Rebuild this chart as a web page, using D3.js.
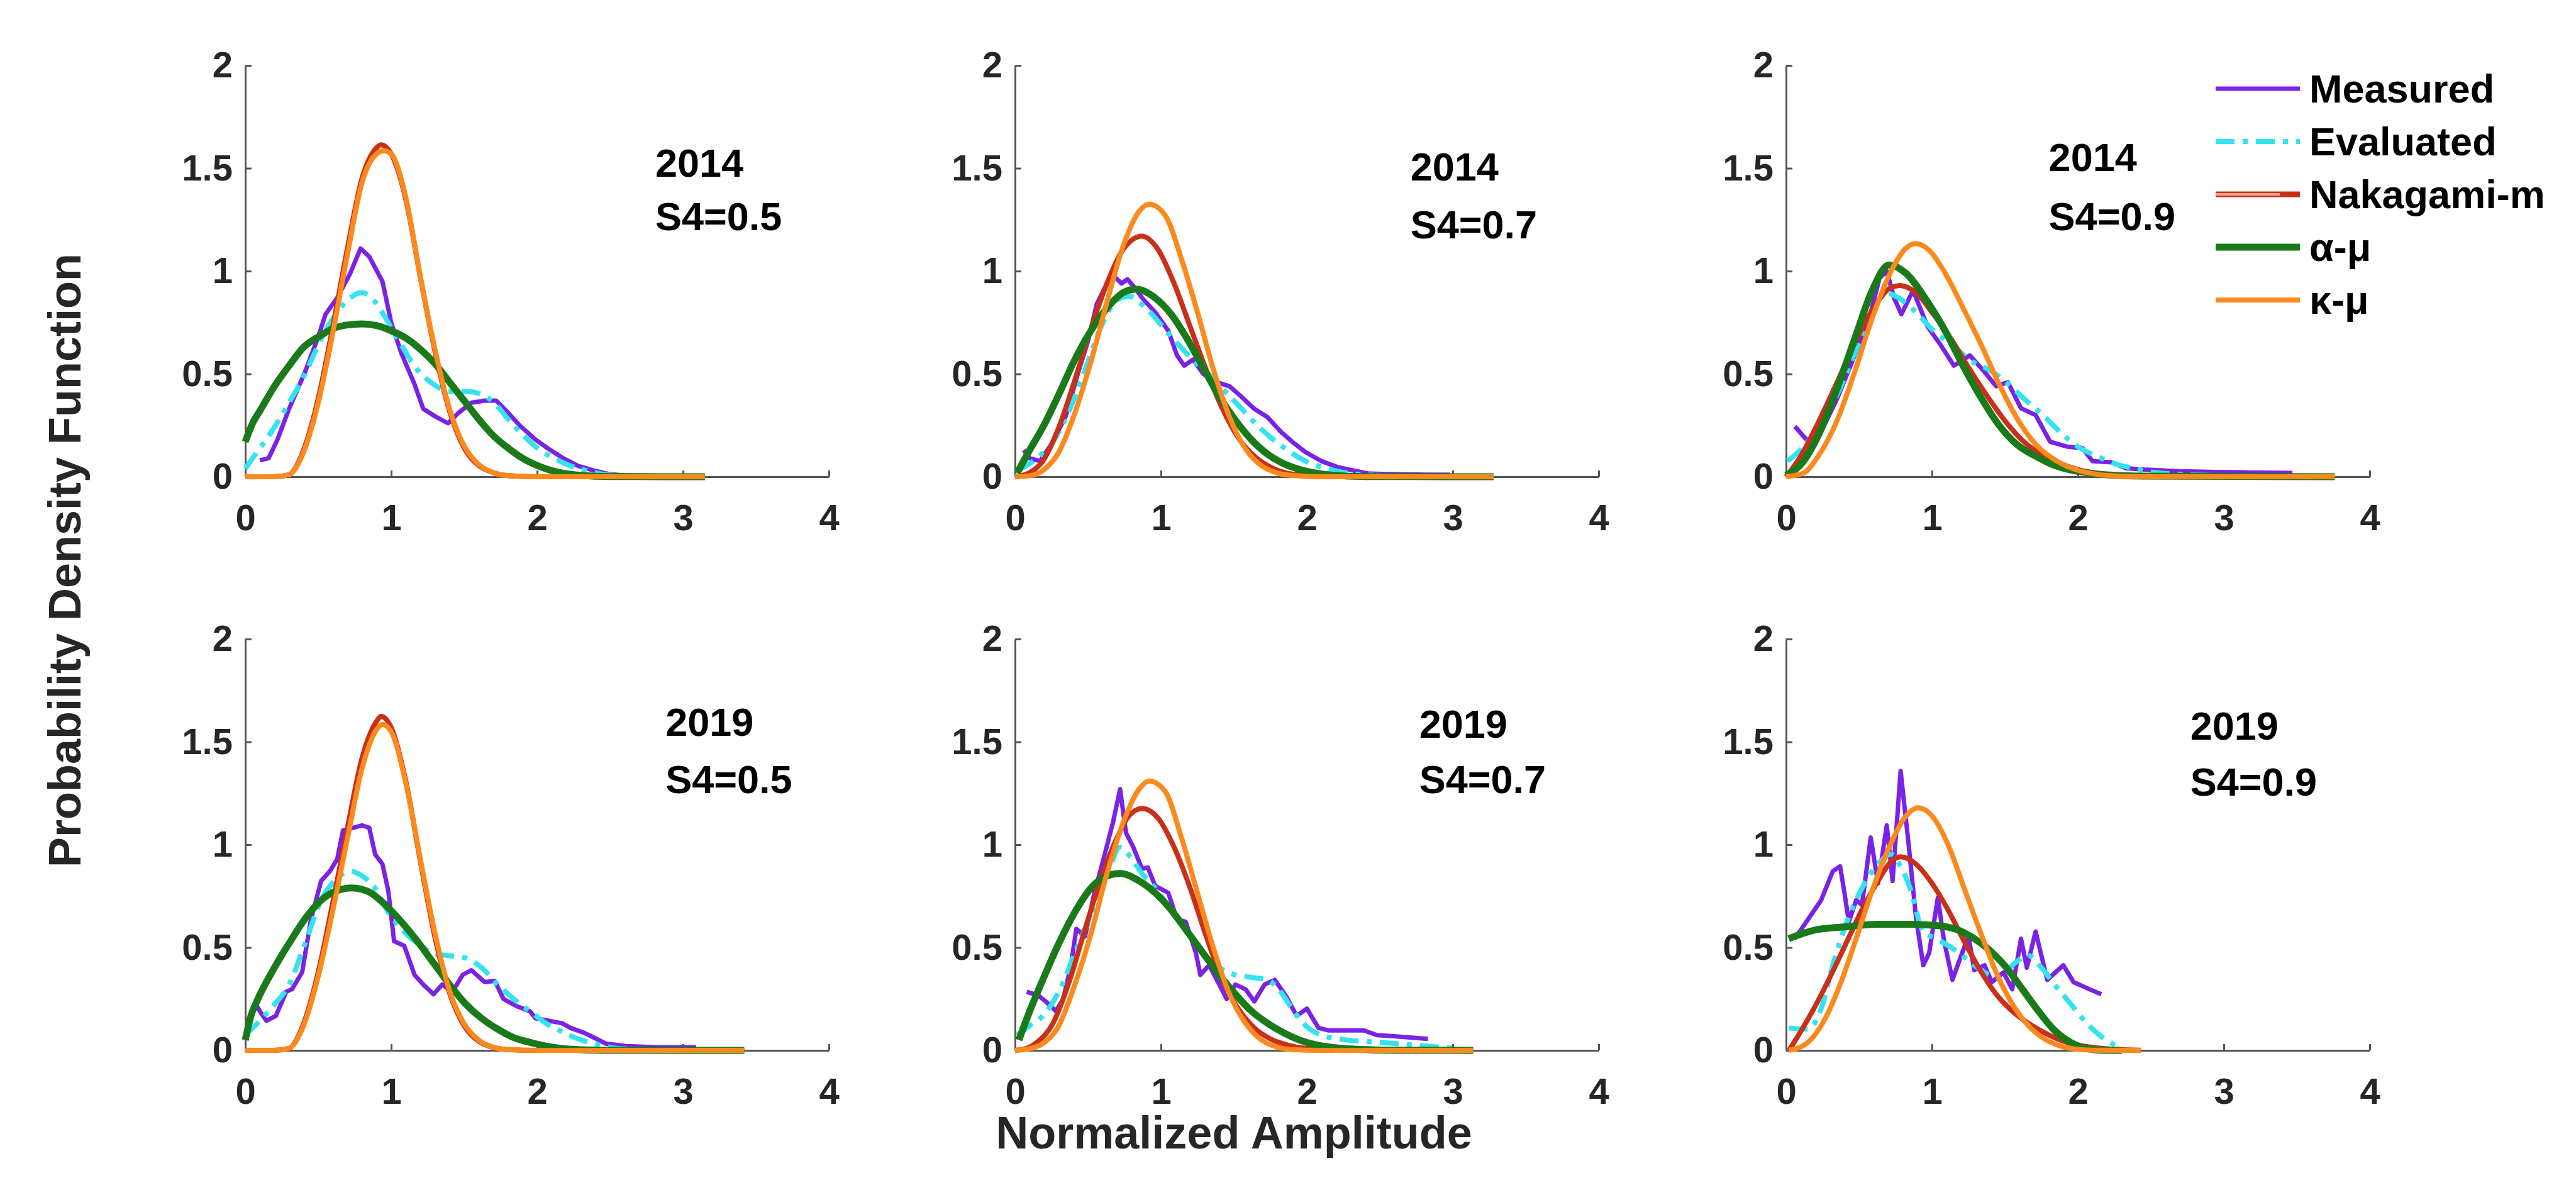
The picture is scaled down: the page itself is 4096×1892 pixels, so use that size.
<!DOCTYPE html>
<html>
<head>
<meta charset="utf-8">
<script src="https://cdn.jsdelivr.net/npm/d3@7"></script>
<style>
  body { margin: 0; background: #fff; }
  text { font-family: "Liberation Sans", Arial, sans-serif; font-weight: bold; }
</style>
</head>
<body>
<svg id="chart" width="4096" height="1892"></svg>
<script>
// ---- data: [amplitude, pdf] ----
// 2014, S4 = 0.5
const measured_14_05 = [[0.10,0.08],[0.16,0.09],[0.22,0.18],[0.30,0.33],[0.41,0.51],[0.50,0.68],[0.55,0.79],[0.63,0.87],[0.72,0.99],[0.79,1.11],[0.85,1.07],[0.94,0.95],[1.00,0.75],[1.07,0.60],[1.16,0.45],[1.22,0.33],[1.31,0.29],[1.39,0.26],[1.46,0.31],[1.55,0.36],[1.64,0.37],[1.72,0.37],[1.79,0.32],[1.88,0.25],[1.99,0.18],[2.08,0.135],[2.17,0.094],[2.28,0.053],[2.39,0.03],[2.50,0.012],[2.60,0.006],[2.70,0.003]];
const evaluated_14_05 = [[0,0.04],[0.08,0.12],[0.19,0.23],[0.30,0.36],[0.41,0.50],[0.52,0.67],[0.63,0.80],[0.72,0.87],[0.80,0.895],[0.89,0.85],[0.98,0.75],[1.07,0.64],[1.18,0.52],[1.29,0.45],[1.40,0.415],[1.51,0.415],[1.62,0.40],[1.71,0.357],[1.79,0.29],[1.90,0.205],[2.01,0.135],[2.12,0.088],[2.23,0.053],[2.34,0.03],[2.45,0.012],[2.60,0.004],[2.70,0.002]];
const nakagami_14_05 = [[0,0],[0.2,0],[0.3,0.01],[0.4,0.13],[0.5,0.38],[0.6,0.73],[0.7,1.11],[0.8,1.45],[0.9,1.60],[0.93,1.614],[1.0,1.57],[1.1,1.35],[1.2,0.97],[1.3,0.61],[1.4,0.32],[1.5,0.14],[1.6,0.055],[1.7,0.02],[1.8,0.005],[2.0,0],[3.15,0]];
const alphamu_14_05 = [[0,0.17],[0.05,0.26],[0.1,0.32],[0.2,0.44],[0.3,0.54],[0.4,0.63],[0.5,0.68],[0.6,0.72],[0.7,0.738],[0.8,0.743],[0.9,0.735],[1.0,0.71],[1.1,0.675],[1.2,0.62],[1.3,0.55],[1.4,0.46],[1.5,0.37],[1.6,0.28],[1.7,0.20],[1.8,0.14],[1.9,0.09],[2.0,0.055],[2.1,0.03],[2.2,0.015],[2.3,0.007],[2.5,0.001],[3.15,0]];
const kappamu_14_05 = [[0,0],[0.2,0],[0.3,0.01],[0.4,0.12],[0.5,0.36],[0.6,0.70],[0.7,1.08],[0.8,1.43],[0.9,1.57],[0.95,1.585],[1.0,1.57],[1.1,1.36],[1.2,0.97],[1.3,0.62],[1.4,0.33],[1.5,0.15],[1.6,0.06],[1.7,0.02],[1.8,0.005],[2.0,0],[3.15,0]];

// 2014, S4 = 0.7
const measured_14_07 = [[0.06,0.13],[0.10,0.09],[0.17,0.076],[0.26,0.17],[0.35,0.30],[0.43,0.50],[0.50,0.66],[0.56,0.84],[0.63,0.94],[0.67,0.98],[0.73,0.94],[0.77,0.96],[0.82,0.92],[0.87,0.87],[0.96,0.80],[1.05,0.71],[1.11,0.59],[1.16,0.54],[1.22,0.57],[1.29,0.50],[1.38,0.46],[1.47,0.44],[1.55,0.39],[1.64,0.33],[1.73,0.29],[1.82,0.22],[1.90,0.17],[1.99,0.12],[2.10,0.076],[2.21,0.047],[2.32,0.03],[2.43,0.015],[2.61,0.012],[2.83,0.01],[2.98,0.01]];
const evaluated_14_07 = [[0.015,0.03],[0.15,0.09],[0.26,0.17],[0.37,0.32],[0.48,0.52],[0.59,0.73],[0.70,0.86],[0.78,0.877],[0.89,0.825],[1.0,0.74],[1.11,0.65],[1.22,0.567],[1.33,0.497],[1.44,0.415],[1.55,0.333],[1.66,0.25],[1.77,0.18],[1.88,0.123],[1.99,0.076],[2.10,0.047],[2.21,0.027],[2.35,0.012],[2.50,0.006],[2.70,0.003]];
const nakagami_14_07 = [[0,0],[0.1,0.02],[0.19,0.076],[0.30,0.24],[0.41,0.47],[0.52,0.72],[0.63,0.94],[0.74,1.105],[0.87,1.17],[0.98,1.105],[1.09,0.94],[1.2,0.73],[1.31,0.52],[1.42,0.333],[1.53,0.19],[1.64,0.10],[1.75,0.047],[1.86,0.018],[2.0,0.006],[2.2,0.001],[3.28,0]];
const alphamu_14_07 = [[0.015,0.018],[0.1,0.13],[0.19,0.24],[0.30,0.40],[0.41,0.57],[0.52,0.71],[0.63,0.82],[0.74,0.895],[0.83,0.912],[0.96,0.87],[1.07,0.79],[1.18,0.67],[1.29,0.53],[1.40,0.39],[1.51,0.275],[1.62,0.18],[1.73,0.11],[1.84,0.064],[1.95,0.035],[2.06,0.018],[2.17,0.008],[2.4,0.001],[3.28,0]];
const kappamu_14_07 = [[0,0],[0.1,0.005],[0.19,0.03],[0.30,0.12],[0.41,0.31],[0.52,0.56],[0.63,0.85],[0.74,1.12],[0.85,1.29],[0.92,1.325],[1.03,1.27],[1.14,1.06],[1.25,0.80],[1.36,0.52],[1.47,0.29],[1.58,0.135],[1.69,0.053],[1.80,0.018],[1.90,0.006],[2.1,0],[3.28,0]];

// 2014, S4 = 0.9
const measured_14_09 = [[0.06,0.245],[0.14,0.18],[0.22,0.19],[0.35,0.38],[0.47,0.59],[0.57,0.77],[0.64,0.965],[0.69,1.0],[0.74,0.87],[0.79,0.79],[0.87,0.906],[0.97,0.73],[1.06,0.64],[1.15,0.54],[1.26,0.59],[1.36,0.51],[1.44,0.44],[1.52,0.46],[1.61,0.333],[1.71,0.30],[1.81,0.17],[1.93,0.146],[2.03,0.14],[2.10,0.076],[2.23,0.07],[2.33,0.041],[2.45,0.035],[2.70,0.027],[2.95,0.023],[3.19,0.021],[3.47,0.018]];
const evaluated_14_09 = [[0.01,0.076],[0.12,0.146],[0.22,0.24],[0.35,0.40],[0.47,0.60],[0.59,0.79],[0.68,0.895],[0.77,0.87],[0.89,0.80],[1.01,0.71],[1.14,0.64],[1.26,0.567],[1.39,0.52],[1.51,0.46],[1.63,0.38],[1.76,0.30],[1.88,0.216],[2.0,0.146],[2.13,0.10],[2.25,0.064],[2.38,0.041],[2.5,0.023],[2.7,0.012],[2.95,0.006],[3.1,0.004]];
const nakagami_14_09 = [[0,0],[0.1,0.10],[0.22,0.263],[0.35,0.46],[0.47,0.65],[0.59,0.81],[0.72,0.92],[0.78,0.93],[0.89,0.895],[1.01,0.79],[1.14,0.66],[1.26,0.52],[1.39,0.38],[1.51,0.263],[1.63,0.17],[1.76,0.105],[1.88,0.064],[2.0,0.035],[2.2,0.012],[2.5,0.002],[3.76,0]];
const alphamu_14_09 = [[0,0.006],[0.12,0.076],[0.22,0.20],[0.35,0.43],[0.47,0.67],[0.59,0.906],[0.705,1.03],[0.82,0.99],[0.97,0.85],[1.09,0.71],[1.21,0.544],[1.34,0.38],[1.46,0.25],[1.58,0.158],[1.71,0.10],[1.83,0.058],[1.96,0.032],[2.08,0.018],[2.2,0.009],[2.45,0.003],[3.76,0]];
const kappamu_14_09 = [[0,0],[0.12,0.018],[0.22,0.10],[0.35,0.275],[0.47,0.51],[0.59,0.77],[0.72,1.0],[0.82,1.11],[0.886,1.134],[0.99,1.094],[1.09,0.99],[1.21,0.825],[1.34,0.637],[1.46,0.45],[1.58,0.287],[1.71,0.158],[1.83,0.088],[1.96,0.041],[2.08,0.018],[2.2,0.006],[2.4,0.001],[3.76,0]];

// 2019, S4 = 0.5
const measured_19_05 = [[0.068,0.232],[0.10,0.19],[0.145,0.144],[0.21,0.168],[0.28,0.285],[0.32,0.297],[0.39,0.38],[0.45,0.637],[0.52,0.824],[0.58,0.871],[0.63,0.93],[0.67,1.07],[0.74,1.082],[0.80,1.094],[0.85,1.082],[0.89,0.953],[0.94,0.906],[0.98,0.777],[1.02,0.531],[1.09,0.508],[1.16,0.367],[1.22,0.32],[1.29,0.273],[1.35,0.32],[1.42,0.285],[1.49,0.367],[1.55,0.39],[1.64,0.332],[1.71,0.338],[1.77,0.25],[1.86,0.215],[1.95,0.191],[1.99,0.156],[2.08,0.144],[2.17,0.132],[2.23,0.109],[2.32,0.086],[2.39,0.062],[2.47,0.033],[2.61,0.021],[2.83,0.015],[3.09,0.015]];
const evaluated_19_05 = [[0,0.074],[0.10,0.144],[0.19,0.215],[0.30,0.32],[0.41,0.52],[0.52,0.73],[0.63,0.836],[0.72,0.871],[0.80,0.848],[0.89,0.789],[0.98,0.672],[1.07,0.59],[1.18,0.52],[1.29,0.472],[1.40,0.46],[1.51,0.449],[1.62,0.402],[1.73,0.32],[1.84,0.25],[1.95,0.191],[2.06,0.132],[2.17,0.091],[2.28,0.056],[2.39,0.033],[2.5,0.015],[2.65,0.006],[2.8,0.003]];
const nakagami_19_05 = [[0,0],[0.2,0],[0.3,0.01],[0.4,0.13],[0.5,0.38],[0.6,0.72],[0.7,1.08],[0.8,1.42],[0.9,1.60],[0.93,1.624],[1.0,1.57],[1.1,1.31],[1.2,0.92],[1.3,0.55],[1.4,0.28],[1.5,0.12],[1.6,0.045],[1.7,0.014],[1.8,0.004],[2.0,0],[3.42,0]];
const alphamu_19_05 = [[0,0.05],[0.04,0.17],[0.08,0.24],[0.19,0.39],[0.30,0.52],[0.41,0.64],[0.52,0.73],[0.63,0.777],[0.73,0.79],[0.85,0.77],[0.96,0.707],[1.07,0.625],[1.18,0.53],[1.29,0.425],[1.40,0.32],[1.51,0.226],[1.62,0.156],[1.73,0.103],[1.84,0.062],[1.95,0.039],[2.06,0.021],[2.17,0.009],[2.28,0.004],[2.5,0.001],[3.42,0]];
const kappamu_19_05 = [[0,0],[0.2,0],[0.3,0.01],[0.4,0.12],[0.5,0.36],[0.6,0.68],[0.7,1.03],[0.8,1.37],[0.9,1.56],[0.94,1.585],[1.0,1.55],[1.1,1.30],[1.2,0.93],[1.3,0.57],[1.4,0.29],[1.5,0.13],[1.6,0.05],[1.7,0.015],[1.8,0.004],[2.0,0],[3.42,0]];

// 2019, S4 = 0.7
const measured_19_07 = [[0.08,0.285],[0.16,0.267],[0.21,0.238],[0.28,0.191],[0.33,0.25],[0.38,0.402],[0.42,0.59],[0.48,0.555],[0.54,0.754],[0.61,0.941],[0.67,1.105],[0.72,1.27],[0.76,1.059],[0.81,0.988],[0.87,0.883],[0.91,0.889],[0.96,0.80],[1.05,0.766],[1.11,0.637],[1.17,0.625],[1.24,0.472],[1.27,0.367],[1.33,0.414],[1.40,0.32],[1.45,0.25],[1.51,0.32],[1.58,0.297],[1.64,0.238],[1.71,0.32],[1.78,0.343],[1.86,0.261],[1.93,0.168],[2.0,0.203],[2.08,0.109],[2.15,0.097],[2.28,0.097],[2.39,0.097],[2.48,0.074],[2.61,0.068],[2.83,0.056]];
const evaluated_19_07 = [[0.015,0.074],[0.10,0.12],[0.19,0.168],[0.30,0.285],[0.41,0.472],[0.52,0.66],[0.63,0.848],[0.72,0.988],[0.79,0.941],[0.87,0.86],[0.96,0.789],[1.07,0.683],[1.18,0.578],[1.29,0.472],[1.40,0.402],[1.51,0.367],[1.62,0.355],[1.73,0.343],[1.82,0.285],[1.91,0.191],[1.99,0.121],[2.10,0.074],[2.28,0.05],[2.5,0.039],[2.72,0.027],[2.92,0.015],[3.0,0.01]];
const nakagami_19_07 = [[0,0],[0.08,0.01],[0.15,0.039],[0.26,0.132],[0.37,0.332],[0.48,0.59],[0.59,0.836],[0.70,1.035],[0.78,1.14],[0.87,1.176],[0.98,1.129],[1.09,0.988],[1.2,0.789],[1.31,0.555],[1.42,0.343],[1.53,0.203],[1.64,0.109],[1.75,0.056],[1.86,0.027],[2.0,0.009],[2.2,0.002],[3.14,0]];
const alphamu_19_07 = [[0.026,0.05],[0.10,0.19],[0.19,0.343],[0.30,0.52],[0.41,0.672],[0.52,0.789],[0.63,0.848],[0.72,0.86],[0.85,0.824],[0.96,0.766],[1.07,0.683],[1.18,0.578],[1.29,0.472],[1.40,0.367],[1.51,0.273],[1.62,0.191],[1.73,0.132],[1.84,0.086],[1.95,0.05],[2.06,0.027],[2.17,0.015],[2.39,0.004],[2.6,0.001],[3.14,0]];
const kappamu_19_07 = [[0,0],[0.10,0.008],[0.19,0.033],[0.30,0.12],[0.41,0.32],[0.52,0.566],[0.63,0.86],[0.74,1.105],[0.85,1.27],[0.92,1.31],[1.03,1.258],[1.14,1.035],[1.25,0.766],[1.36,0.496],[1.47,0.273],[1.58,0.132],[1.69,0.05],[1.80,0.015],[1.90,0.004],[2.1,0],[3.14,0]];

// 2019, S4 = 0.9
const measured_19_09 = [[0.06,0.543],[0.15,0.637],[0.24,0.73],[0.32,0.871],[0.37,0.895],[0.40,0.766],[0.43,0.625],[0.48,0.73],[0.52,0.707],[0.58,1.035],[0.63,0.812],[0.69,1.094],[0.73,0.824],[0.785,1.358],[0.84,1.0],[0.89,0.648],[0.94,0.414],[0.98,0.472],[1.04,0.742],[1.08,0.543],[1.14,0.343],[1.20,0.461],[1.25,0.555],[1.29,0.39],[1.36,0.414],[1.41,0.332],[1.49,0.379],[1.55,0.297],[1.61,0.543],[1.65,0.402],[1.71,0.578],[1.79,0.343],[1.90,0.414],[1.97,0.332],[2.08,0.297],[2.16,0.273]];
const evaluated_19_09 = [[0.018,0.109],[0.15,0.103],[0.24,0.203],[0.32,0.414],[0.41,0.613],[0.52,0.789],[0.63,0.906],[0.72,0.953],[0.785,0.894],[0.85,0.789],[0.94,0.578],[1.03,0.543],[1.14,0.496],[1.25,0.437],[1.36,0.379],[1.46,0.355],[1.57,0.426],[1.66,0.461],[1.75,0.402],[1.84,0.32],[1.95,0.226],[2.06,0.132],[2.17,0.062],[2.25,0.027],[2.30,0.009]];
const nakagami_19_09 = [[0.02,0],[0.105,0.097],[0.19,0.203],[0.30,0.355],[0.41,0.519],[0.52,0.683],[0.63,0.824],[0.72,0.918],[0.785,0.941],[0.89,0.906],[1.0,0.812],[1.11,0.683],[1.22,0.531],[1.33,0.39],[1.44,0.273],[1.55,0.191],[1.66,0.132],[1.77,0.086],[1.88,0.05],[1.99,0.027],[2.10,0.015],[2.28,0.004],[2.43,0.001]];
const alphamu_19_09 = [[0.018,0.543],[0.105,0.566],[0.19,0.584],[0.41,0.601],[0.63,0.613],[0.85,0.613],[1.03,0.607],[1.16,0.59],[1.29,0.543],[1.40,0.484],[1.51,0.402],[1.62,0.297],[1.73,0.191],[1.84,0.097],[1.95,0.039],[2.06,0.009],[2.17,0.001],[2.3,0]];
const kappamu_19_09 = [[0.02,0],[0.15,0.039],[0.26,0.144],[0.37,0.32],[0.48,0.543],[0.59,0.777],[0.70,0.977],[0.81,1.129],[0.906,1.18],[1.0,1.14],[1.11,1.0],[1.22,0.789],[1.33,0.578],[1.44,0.379],[1.55,0.226],[1.66,0.121],[1.77,0.056],[1.88,0.021],[1.99,0.006],[2.1,0.001],[2.43,0]];

// labels
const seriesNames = ["Measured", "Evaluated", "Nakagami-m", "\u03b1-\u03bc", "\u03ba-\u03bc"];
const panelYears = ["2014", "2014", "2014", "2019", "2019", "2019"];
const panelS4 = ["S4=0.5", "S4=0.7", "S4=0.9", "S4=0.5", "S4=0.7", "S4=0.9"];
const xTicks = [0, 1, 2, 3, 4];
const yTicks = [0, 0.5, 1, 1.5, 2];
const yTickLabels = ["0", "0.5", "1", "1.5", "2"];

const panelSeries = [
    [measured_14_05, evaluated_14_05, nakagami_14_05, alphamu_14_05, kappamu_14_05],
    [measured_14_07, evaluated_14_07, nakagami_14_07, alphamu_14_07, kappamu_14_07],
    [measured_14_09, evaluated_14_09, nakagami_14_09, alphamu_14_09, kappamu_14_09],
    [measured_19_05, evaluated_19_05, nakagami_19_05, alphamu_19_05, kappamu_19_05],
    [measured_19_07, evaluated_19_07, nakagami_19_07, alphamu_19_07, kappamu_19_07],
    [measured_19_09, evaluated_19_09, nakagami_19_09, alphamu_19_09, kappamu_19_09]
];

// ---- layout / style ----
const colLeft = [390, 1614, 2840];
const rowTop = [104, 1016];
const plotW = 928;
const plotH = 654;
const seriesColors = ["#7a22e6", "#33e3ef", "#c9301a", "#1a7a1a", "#fb8a1e"];
const seriesWidth = [7, 8, 8, 11, 8];
const seriesDash = [null, "30,13,8,13", null, null, null];
// annotation anchor in data units: [x, baseline of year, baseline of S4]
const notePos = [[2.81, 1.46, 1.20], [2.71, 1.44, 1.16], [1.80, 1.485, 1.20],
                 [2.88, 1.53, 1.25], [2.77, 1.52, 1.25], [2.77, 1.51, 1.24]];
const axisColor = "#555";
const textColor = "#262626";

const svg = d3.select("#chart");
svg.append("rect").attr("width", 4096).attr("height", 1892).attr("fill", "#fff");

panelSeries.forEach((series, i) => {
    const left = colLeft[i % 3];
    const top = rowTop[Math.floor(i / 3)];
    const x = d3.scaleLinear().domain([0, 4]).range([left, left + plotW]);
    const y = d3.scaleLinear().domain([0, 2]).range([top + plotH, top]);
    const g = svg.append("g");

    // axes, MATLAB style ticks pointing inward
    const ax = g.append("g")
        .attr("transform", "translate(0," + (top + plotH) + ")")
        .call(d3.axisBottom(x).tickValues(xTicks).tickSize(-10).tickSizeOuter(0)
            .tickPadding(44).tickFormat(d3.format("d")));
    const ay = g.append("g")
        .attr("transform", "translate(" + left + ",0)")
        .call(d3.axisLeft(y).tickValues(yTicks).tickSize(-10).tickSizeOuter(0)
            .tickPadding(20).tickFormat((d, k) => yTickLabels[k]));
    [ax, ay].forEach(a => {
        a.attr("font-family", null).attr("font-size", null);
        a.select(".domain").attr("stroke", axisColor).attr("stroke-width", 3);
        a.selectAll(".tick line").attr("stroke", axisColor).attr("stroke-width", 3);
        a.selectAll(".tick text").attr("font-size", 58).attr("fill", textColor);
    });

    // curves
    series.forEach((s, k) => {
        const line = d3.line()
            .x(d => x(d[0]))
            .y(d => y(d[1]))
            .curve(k === 0 ? d3.curveLinear : d3.curveMonotoneX);
        g.append("path")
            .datum(s)
            .attr("d", line)
            .attr("fill", "none")
            .attr("stroke", seriesColors[k])
            .attr("stroke-width", seriesWidth[k])
            .attr("stroke-dasharray", seriesDash[k])
            .attr("stroke-linejoin", "round");
    });

    // year / S4 annotation
    const np = notePos[i];
    g.append("text").attr("x", x(np[0])).attr("y", y(np[1]))
        .attr("font-size", 63).attr("fill", "#000").text(panelYears[i]);
    g.append("text").attr("x", x(np[0])).attr("y", y(np[2]))
        .attr("font-size", 63).attr("fill", "#000").text(panelS4[i]);
});

// legend (inside top-right panel)
const legend = svg.append("g");
seriesNames.forEach((name, k) => {
    const ly = 141 + k * 84;
    if (k === 2) {
        legend.append("line").attr("x1", 3523).attr("x2", 3657).attr("y1", ly).attr("y2", ly)
            .attr("stroke", seriesColors[k]).attr("stroke-width", 9);
        legend.append("line").attr("x1", 3523).attr("x2", 3625).attr("y1", ly).attr("y2", ly)
            .attr("stroke", "#f2a493").attr("stroke-width", 4);
    } else {
        legend.append("line").attr("x1", 3523).attr("x2", 3657).attr("y1", ly).attr("y2", ly)
            .attr("stroke", seriesColors[k]).attr("stroke-width", seriesWidth[k])
            .attr("stroke-dasharray", seriesDash[k]);
    }
    legend.append("text").attr("x", 3672).attr("y", ly + 22)
        .attr("font-size", 63).attr("fill", "#000").text(name);
});

// axis labels
svg.append("text")
    .attr("x", 1962).attr("y", 1826)
    .attr("text-anchor", "middle")
    .attr("font-size", 72).attr("fill", textColor)
    .text("Normalized Amplitude");
svg.append("text")
    .attr("transform", "translate(128,891) rotate(-90)")
    .attr("text-anchor", "middle")
    .attr("font-size", 72).attr("fill", textColor)
    .text("Probability Density Function");
</script>
</body>
</html>
